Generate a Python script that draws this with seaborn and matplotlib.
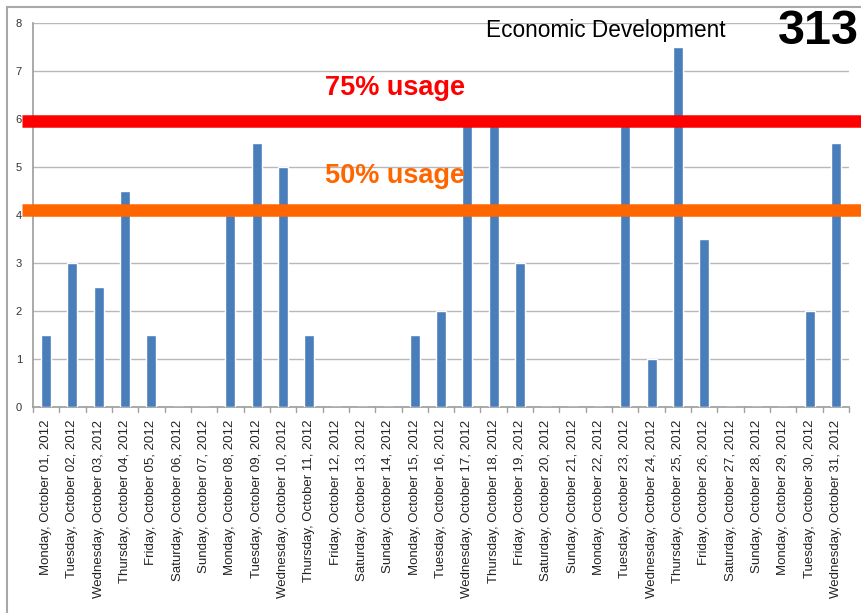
import matplotlib
matplotlib.use("Agg")
import matplotlib.pyplot as plt
import seaborn as sns
import pandas as pd
from matplotlib.patches import Rectangle

dates = [
    "Monday, October 01, 2012", "Tuesday, October 02, 2012", "Wednesday, October 03, 2012",
    "Thursday, October 04, 2012", "Friday, October 05, 2012", "Saturday, October 06, 2012",
    "Sunday, October 07, 2012", "Monday, October 08, 2012", "Tuesday, October 09, 2012",
    "Wednesday, October 10, 2012", "Thursday, October 11, 2012", "Friday, October 12, 2012",
    "Saturday, October 13, 2012", "Sunday, October 14, 2012", "Monday, October 15, 2012",
    "Tuesday, October 16, 2012", "Wednesday, October 17, 2012", "Thursday, October 18, 2012",
    "Friday, October 19, 2012", "Saturday, October 20, 2012", "Sunday, October 21, 2012",
    "Monday, October 22, 2012", "Tuesday, October 23, 2012", "Wednesday, October 24, 2012",
    "Thursday, October 25, 2012", "Friday, October 26, 2012", "Saturday, October 27, 2012",
    "Sunday, October 28, 2012", "Monday, October 29, 2012", "Tuesday, October 30, 2012",
    "Wednesday, October 31, 2012",
]
usage = [1.5, 3, 2.5, 4.5, 1.5, 0, 0, 4, 5.5, 5, 1.5, 0, 0, 0, 1.5,
         2, 6, 6, 3, 0, 0, 0, 6, 1, 7.5, 3.5, 0, 0, 0, 2, 5.5]
yticks = [0, 1, 2, 3, 4, 5, 6, 7, 8]
level_75 = 5.95
level_50 = 4.1
title = "Economic Development"
room = "313"

sns.set_theme(style="white")
plt.rcParams['font.family'] = ['Liberation Sans', 'DejaVu Sans']

df = pd.DataFrame({"date": dates, "usage": usage})

fig = plt.figure(figsize=(8.62, 6.13), dpi=100)
ax = fig.add_axes([33/862, 1 - 407/613, 816/862, (407 - 23)/613])

sns.barplot(data=df, x="date", y="usage", color="#4a7ebb", saturation=1,
            width=0.38, ax=ax, zorder=3)

ax.set_ylim(0, 8)
ax.set_xlim(-0.5, len(dates) - 0.5)
ax.set_yticks(yticks)
ax.set_yticklabels([str(t) for t in yticks], fontsize=8, color="#333333")
ax.yaxis.grid(True, color="#b8b8b8", linewidth=1, zorder=0)
ax.set_axisbelow(True)
ax.set_xlabel("")
ax.set_ylabel("")
ax.tick_params(axis="x", labelrotation=90, labelsize=9.5, length=0, pad=9, colors="#222222")
ax.tick_params(axis="y", length=0, pad=8)
for lab in ax.get_xticklabels():
    lab.set_va("top")
for s in ["top", "right"]:
    ax.spines[s].set_visible(False)
ax.spines["left"].set_color("#a0a0a0")
ax.spines["bottom"].set_color("#a0a0a0")
# tick marks between categories
for i in range(len(dates) + 1):
    ax.plot([i - 0.5, i - 0.5], [0, -0.1], color="#a0a0a0", lw=1, clip_on=False, zorder=2)

ax.axhline(level_75, xmin=-0.013, xmax=1.02, color="#ff0000", lw=9, clip_on=False,
           zorder=5, solid_capstyle="butt")
ax.axhline(level_50, xmin=-0.013, xmax=1.02, color="#ff6600", lw=9, clip_on=False,
           zorder=5, solid_capstyle="butt")

fig.text(325/862, 1 - 88/613, "75% usage", color="#ff0000", fontsize=19.5,
         fontweight="bold", va="center", ha="left")
fig.text(325/862, 1 - 176/613, "50% usage", color="#ff6600", fontsize=19.5,
         fontweight="bold", va="center", ha="left")
fig.text(606/862, 1 - 31/613, title, color="black", fontsize=16.3, va="center", ha="center")
fig.text(859/862, 1 - 32/613, room, color="black", fontsize=35, fontweight="bold",
         va="center", ha="right")

fig.patches.append(Rectangle((7/862, -0.1), 2, 1.1 - 7/613, transform=fig.transFigure,
                             fill=False, edgecolor="#a8a8a8", lw=1.5))

fig.savefig("out.png", dpi=100)
